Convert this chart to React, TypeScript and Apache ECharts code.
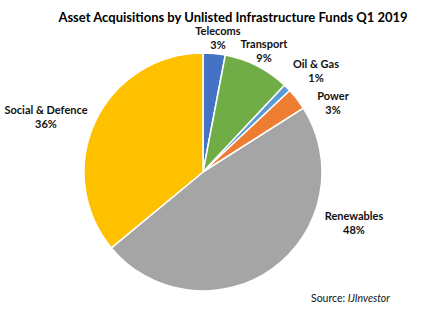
import React, { useEffect, useRef } from "react";
import * as echarts from "echarts";

const categories = ["Telecoms", "Transport", "Oil & Gas", "Power", "Renewables", "Social & Defence"];
const values = [3, 9, 1, 3, 48, 36];
const colors = ["#4472C4", "#70AD47", "#5B9BD5", "#ED7D31", "#A5A5A5", "#FFC000"];
// label anchor points (layout, not data)
const labelAnchors: [number, number][] = [
  [218, 37],
  [264, 50],
  [316, 70],
  [333, 102],
  [354, 222],
  [46, 116],
];

export default function App() {
  const ref = useRef<HTMLDivElement>(null);
  useEffect(() => {
    if (!ref.current) return;
    const chart = echarts.init(ref.current, undefined, { renderer: "svg" });
    chart.setOption({
      animation: false,
      backgroundColor: "#ffffff",
      title: {
        text: "Asset Acquisitions by Unlisted Infrastructure Funds Q1 2019",
        left: 228,
        top: 5,
        textAlign: "center",
        textStyle: { fontFamily: "Lato", fontWeight: "bold", fontSize: 13, color: "#000" },
      },
      graphic: [
        {
          type: "text",
          left: 311,
          top: 292,
          style: {
            text: "{a|Source: }{b|IJInvestor}",
            rich: {
              a: { fontFamily: "Lato", fontSize: 10.5, fill: "#111" },
              b: { fontFamily: "Lato", fontSize: 10.5, fontStyle: "italic", fill: "#111" },
            },
          },
        },
      ],
      series: [
        {
          type: "pie",
          center: [203, 172],
          radius: 119,
          startAngle: 90,
          clockwise: true,
          percentPrecision: 0,
          itemStyle: { borderColor: "#fff", borderWidth: 1.5 },
          label: {
            show: true,
            position: "outside",
            formatter: "{b}\n{d}%",
            fontFamily: "Lato",
            fontWeight: "bold",
            fontSize: 11,
            lineHeight: 14,
            color: "#111",
            align: "center",
            overflow: "none",
            width: 200,
          },
          labelLine: { show: false },
          labelLayout: (params: any) => {
            const p = labelAnchors[params.dataIndex];
            return { x: p[0], y: p[1], align: "center", verticalAlign: "middle" };
          },
          data: categories.map((c, i) => ({ name: c, value: values[i], itemStyle: { color: colors[i] } })),
        },
      ],
    });
    return () => chart.dispose();
  }, []);
  return <div ref={ref} style={{ position: "fixed", left: 0, top: 0, width: 427, height: 313 }} />;
}
